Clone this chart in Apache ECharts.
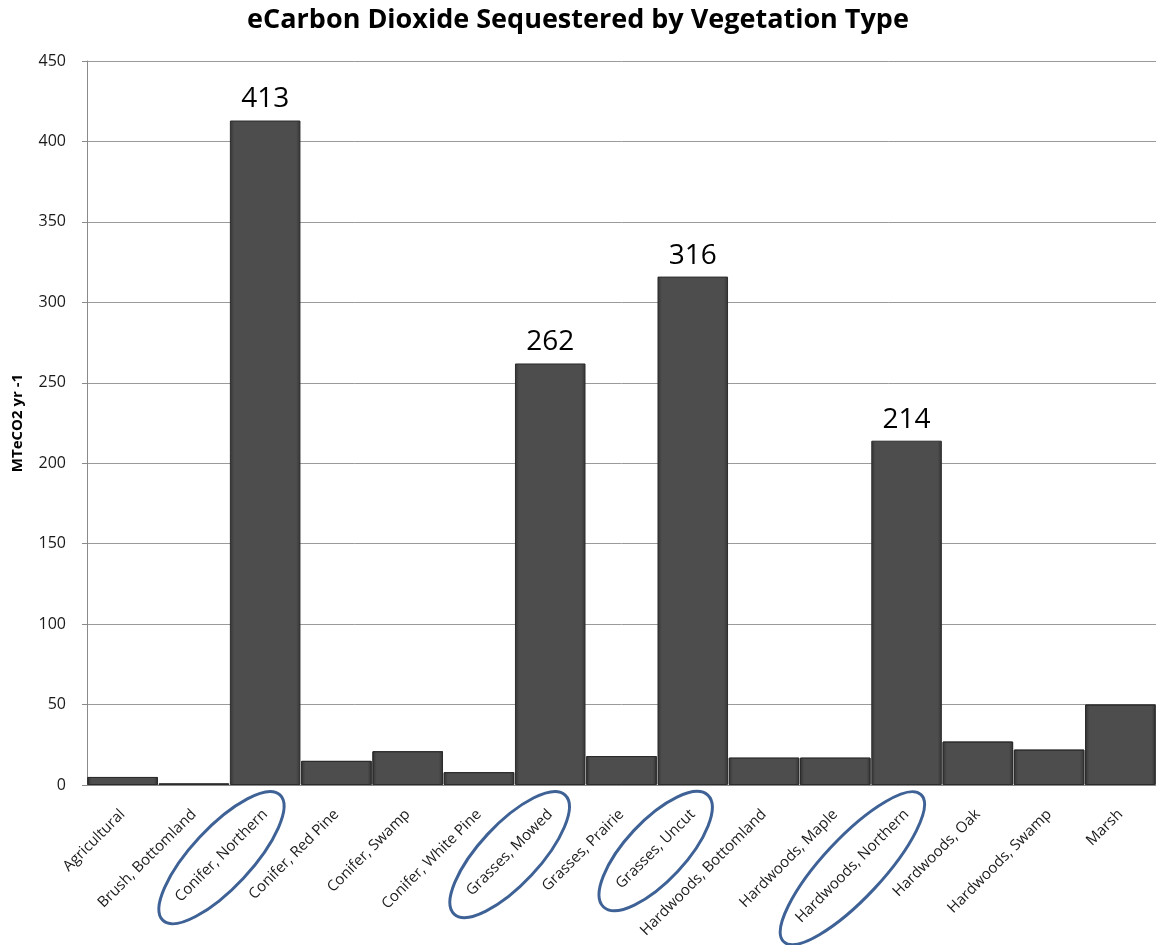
<!DOCTYPE html>
<html>
<head>
<meta charset="utf-8">
<title>eCarbon Dioxide Sequestered by Vegetation Type</title>
<script src="https://cdn.jsdelivr.net/npm/echarts@6/dist/echarts.min.js"></script>
<style>
    html, body { margin: 0; padding: 0; background: #fff; }
    #chart { width: 1156px; height: 945px; }
</style>
</head>
<body>
<div id="chart"></div>
<script>
    // categories along the x axis
    const categories = [
        'Agricultural', 'Brush, Bottomland', 'Conifer, Northern', 'Conifer, Red Pine',
        'Conifer, Swamp', 'Conifer, White Pine', 'Grasses, Mowed', 'Grasses, Prairie',
        'Grasses, Uncut', 'Hardwoods, Bottomland', 'Hardwoods, Maple', 'Hardwoods, Northern',
        'Hardwoods, Oak', 'Hardwoods, Swamp', 'Marsh'
    ]
    // MTeCO2 per year
    const values = [5, 1, 413, 15, 21, 8, 262, 18, 316, 17, 17, 214, 27, 22, 50]
    // categories circled and labelled in the picture
    const circled = ['Conifer, Northern', 'Grasses, Mowed', 'Grasses, Uncut', 'Hardwoods, Northern']
    const yTicks = { min: 0, max: 450, interval: 50 }

    const labelSize = 15
    const labelFont = labelSize + 'px "Open Sans"'
    const labelMargin = 27

    let myChart = echarts.init(document.getElementById('chart'))

    // 整合数据
    let barData = values.map((v, i) => {
        let item = { value: v }
        if (circled.indexOf(categories[i]) >= 0) {
            item.label = { show: true }
        }
        return item
    })

    let option = {
        animation: false,
        title: {
            text: 'eCarbon Dioxide Sequestered by Vegetation Type',
            left: 'center',
            top: 2,
            textStyle: {
                fontFamily: 'Open Sans',
                fontWeight: 'bold',
                fontSize: 27,
                color: '#000'
            }
        },
        grid: {
            left: 87,
            right: -2,
            top: 61,
            bottom: 160
        },
        xAxis: {
            type: 'category',
            data: categories,
            axisLine: { lineStyle: { color: '#8a8a8a', width: 1 } },
            axisTick: { show: false },
            axisLabel: {
                interval: 0,
                rotate: 45,
                margin: labelMargin,
                color: '#1a1a1a',
                fontFamily: 'Open Sans',
                fontSize: labelSize
            }
        },
        yAxis: {
            type: 'value',
            min: yTicks.min,
            max: yTicks.max,
            interval: yTicks.interval,
            name: 'MTeCO2 yr -1',
            nameLocation: 'middle',
            nameGap: 62,
            nameTextStyle: {
                fontFamily: 'Open Sans',
                fontWeight: 'bold',
                fontSize: 15,
                color: '#000'
            },
            axisLine: { show: true, lineStyle: { color: '#8a8a8a' } },
            axisTick: { show: true, length: 5, lineStyle: { color: '#8a8a8a' } },
            axisLabel: {
                margin: 21,
                color: '#1a1a1a',
                fontFamily: 'Open Sans',
                fontSize: 16
            },
            splitLine: { lineStyle: { color: '#9a9a9a', width: 1 } }
        },
        series: [{
            type: 'bar',
            data: barData,
            barCategoryGap: '1%',
            itemStyle: {
                color: {
                    type: 'linear', x: 0, y: 0, x2: 1, y2: 0,
                    colorStops: [
                        { offset: 0, color: '#343434' },
                        { offset: 0.06, color: '#4d4d4d' },
                        { offset: 0.94, color: '#4d4d4d' },
                        { offset: 1, color: '#343434' }
                    ]
                },
                borderColor: '#2c2c2c',
                borderWidth: 1
            },
            label: {
                show: false,
                position: 'top',
                distance: 7,
                color: '#000',
                fontFamily: 'Open Sans',
                fontSize: 28
            }
        }]
    }
    myChart.setOption(option)

    // 画出标注椭圆, placed on the rotated axis labels
    function drawEllipses() {
        let ctx = document.createElement('canvas').getContext('2d')
        ctx.font = labelFont
        let y0 = myChart.convertToPixel({ yAxisIndex: 0 }, 0)
        let angle = 47 * Math.PI / 180
        let shapes = circled.map(name => {
            let x = myChart.convertToPixel({ xAxisIndex: 0 }, name)
            let len = ctx.measureText(name).width
            let cx = x - Math.cos(Math.PI / 4) * len / 2
            let cy = y0 + labelMargin + Math.sin(Math.PI / 4) * len / 2 + 2
            return {
                type: 'ellipse',
                x: cx,
                y: cy,
                rotation: angle,
                shape: { cx: 0, cy: 0, rx: len / 2 + 24, ry: 30 },
                style: { fill: null, stroke: '#3f6296', lineWidth: 3 },
                silent: true
            }
        })
        myChart.setOption({ graphic: shapes })
    }
    drawEllipses()
</script>
</body>
</html>
